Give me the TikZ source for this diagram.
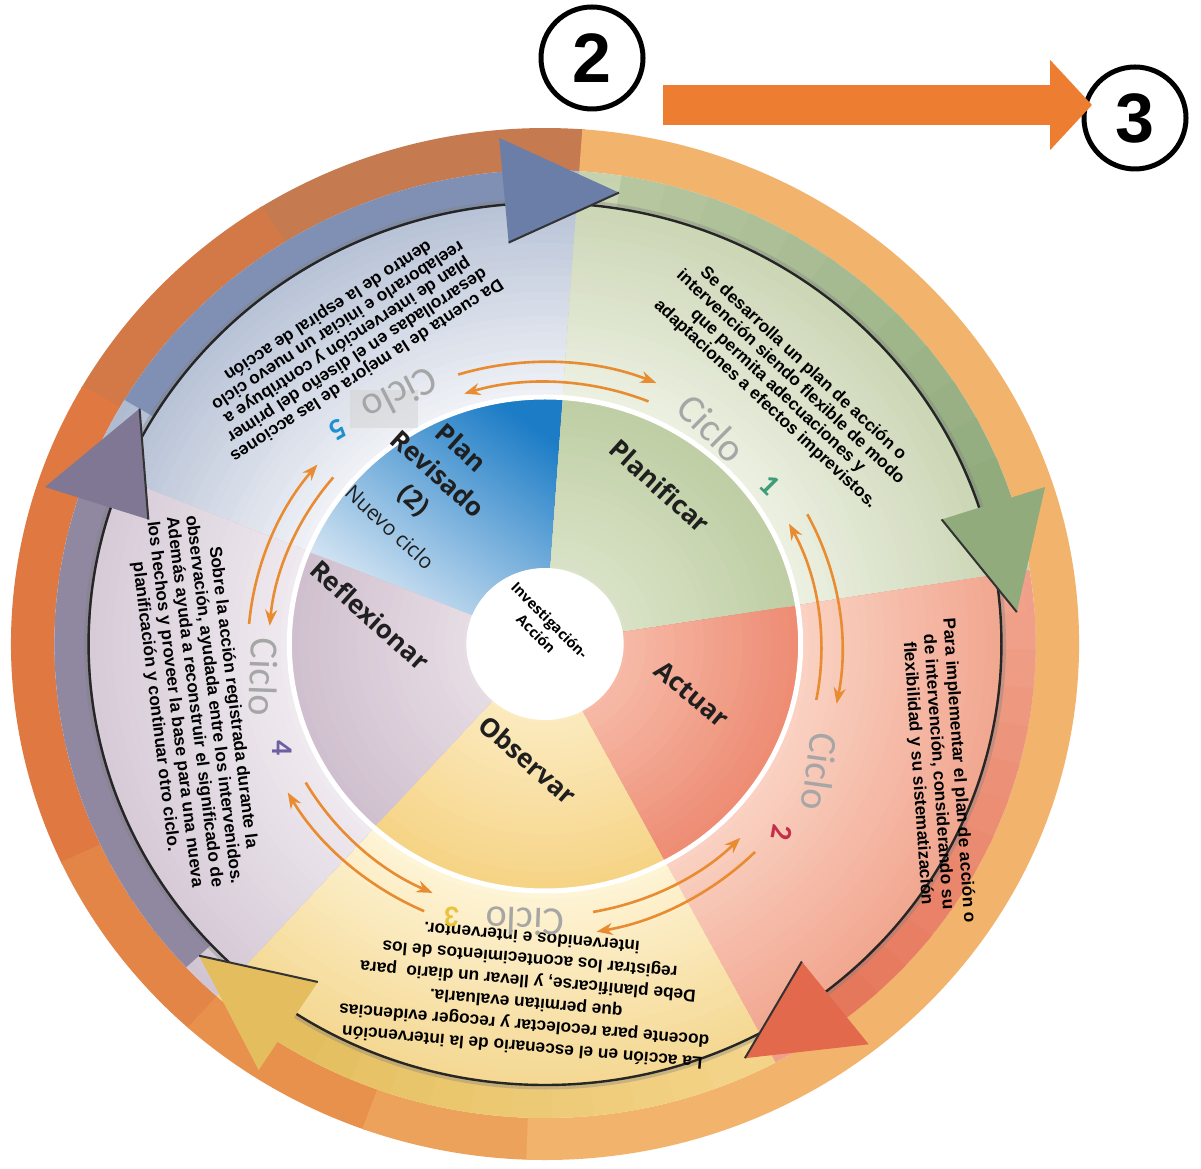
\documentclass[tikz,border=0pt]{standalone}
\usepackage{fontspec}
\setmainfont{Liberation Sans}
\newfontfamily\osans{Open Sans}
\newfontfamily\carl{Carlito}
\usetikzlibrary{arrows.meta}

\definecolor{ringL}{HTML}{F2B46C}
\definecolor{ringM}{HTML}{E8914C}
\definecolor{ringD}{HTML}{DF7941}
\definecolor{ringB}{HTML}{C57A4F}
\definecolor{bOut}{HTML}{AFBBD1}
\definecolor{bIn}{HTML}{F1F3F7}
\definecolor{gOut}{HTML}{C6D2AE}
\definecolor{gIn}{HTML}{EDF1E3}
\definecolor{pOut}{HTML}{F0A088}
\definecolor{pIn}{HTML}{FAD3C4}
\definecolor{yOut}{HTML}{F3D387}
\definecolor{yIn}{HTML}{FEF5D8}
\definecolor{uOut}{HTML}{D2C5D3}
\definecolor{uIn}{HTML}{F0EBF0}
\definecolor{giOut}{HTML}{BFCEA4}
\definecolor{giIn}{HTML}{DCE5CB}
\definecolor{piOut}{HTML}{EE8C74}
\definecolor{piIn}{HTML}{F7C0AD}
\definecolor{yiOut}{HTML}{F6D486}
\definecolor{yiIn}{HTML}{FCEDC6}
\definecolor{uiOut}{HTML}{D0C0CF}
\definecolor{uiIn}{HTML}{E9E0E7}
\definecolor{biTop}{HTML}{1C7CC6}
\definecolor{biMid}{HTML}{B2D1EC}
\definecolor{biBot}{HTML}{EEF3F9}
\definecolor{aB}{HTML}{6B7EA7}
\definecolor{aG}{HTML}{91AB7D}
\definecolor{aP}{HTML}{E2694C}
\definecolor{aY}{HTML}{E4BE5E}
\definecolor{aU}{HTML}{7F7794}
\definecolor{thinO}{HTML}{E98B30}
\definecolor{blockO}{HTML}{ED7D31}
\definecolor{cicloG}{HTML}{A6A6A6}
\definecolor{nOne}{HTML}{3F9C78}
\definecolor{nTwo}{HTML}{C42E48}
\definecolor{nThree}{HTML}{E9C23E}
\definecolor{nFour}{HTML}{6E5EA2}
\definecolor{nFive}{HTML}{1E90D2}

\newcommand\wedgeFill[5]{%
  \fill[#5] (#1:#3) arc[start angle=#1,end angle=#2,radius=#3] -- (#2:#4) arc[start angle=#2,end angle=#1,radius=#4] -- cycle;}
\newcommand\gradWedge[7]{%
  \foreach \k in {#7,...,1}{%
    \pgfmathsetmacro\gwR{#3+(#4-#3)*\k/#7}%
    \pgfmathtruncatemacro\gwP{100*\k/#7}%
    \fill[#5!\gwP!#6] (#1:#3) arc[start angle=#1,end angle=#2,radius=#3] -- (#2:\gwR) arc[start angle=#2,end angle=#1,radius=\gwR] -- cycle;}}
\newcommand\gradBody[4]{%
  \foreach \j in {0,...,11}{%
    \pgfmathsetmacro\gbA{#1+(#2-#1)*\j/12}%
    \pgfmathsetmacro\gbB{#1+(#2-#1)*(\j+1.2)/12}%
    \pgfmathtruncatemacro\gbP{100*\j/11}%
    \fill[#4!\gbP!#3] (\gbA:440) arc[start angle=\gbA,end angle=\gbB,radius=440] -- (\gbB:474) arc[start angle=\gbB,end angle=\gbA,radius=474] -- cycle;}}
\newcommand\bigHead[3]{%
  \fill[#3] (#1:402) -- (#1:508) -- (#2:457) -- cycle;
  \draw[black!80, line width=2pt] (#1:403) -- (#2:457);}

\tikzset{
  body/.style={font=\fontsize{17.3}{#1}\selectfont\bfseries, align=center, inner sep=0pt},
  seclab/.style={font=\osans\fontsize{26}{35}\selectfont\bfseries, text=black!88, align=center, inner sep=0pt},
  ciclo/.style={font=\carl\fontsize{40}{40}\selectfont, text=cicloG, inner sep=0pt},
  cnum/.style={font=\carl\fontsize{30}{30}\selectfont\bfseries, inner sep=0pt},
  oarr/.style={draw=thinO, line width=2.6pt, -{Stealth[length=16pt,width=12pt]}},
  numcirc/.style={circle, draw=black, line width=5pt, minimum size=102pt, inner sep=0pt,
     font=\fontsize{70}{70}\selectfont\bfseries}
}

\begin{document}
\begin{tikzpicture}[x=1pt,y=1pt]
\useasboundingbox (0,0) rectangle (1201,1168);
\fill[white] (0,0) rectangle (1201,1168);

\begin{scope}[shift={(545,524)}, xscale=1.035]
  % outer orange ring
  \wedgeFill{85.7}{122.3}{474}{516}{ringB}
  \wedgeFill{122}{150.3}{474}{516}{ringB!45!ringD}
  \wedgeFill{150}{205.3}{474}{516}{ringD}
  \wedgeFill{205}{228.3}{474}{516}{ringD!50!ringM}
  \wedgeFill{228}{250.3}{474}{516}{ringM}
  \wedgeFill{250}{268.3}{474}{516}{ringM!50!ringL}
  \wedgeFill{268}{446}{474}{516}{ringL}
  % outer light sector regions
  \gradWedge{86}{158}{247}{474}{bOut}{bIn}{28}
  \gradWedge{9}{86}{247}{474}{gOut}{gIn}{28}
  \gradWedge{-62}{9}{247}{474}{pOut}{pIn}{28}
  \gradWedge{-132}{-62}{247}{474}{yOut}{yIn}{28}
  \gradWedge{158}{228}{247}{474}{uOut}{uIn}{28}
  % inner sectors
  \begin{scope}
    \clip (86:60) arc[start angle=86,end angle=158,radius=60] -- (158:248) arc[start angle=158,end angle=86,radius=248] -- cycle;
    \shade[top color=biTop, middle color=biMid, bottom color=biBot, shading angle=-35] (-240,-5) rectangle (30,252);
  \end{scope}
  \gradWedge{9}{86}{60}{247}{giOut}{giIn}{20}
  \gradWedge{-62}{9}{60}{247}{piOut}{piIn}{20}
  \gradWedge{-132}{-62}{60}{247}{yiOut}{yiIn}{20}
  \gradWedge{158}{228}{60}{247}{uiOut}{uiIn}{20}
  % big arrow bodies
  \gradBody{149}{95}{aB!70!bOut}{aB}
  \gradBody{81}{18}{gOut!70!aG}{aG}
  \gradBody{4}{-52}{pOut}{aP!75!pOut}
  \gradBody{-65}{-123}{yOut}{aY}
  \gradBody{223}{162}{aU!80!uOut}{aU}
  % black line
  \draw[black!50, line width=5pt, opacity=.35] (0,0) circle[radius=443];
  \draw[black!85, line width=2.4pt] (0,0) circle[radius=441];
  % arrow heads
  \bigHead{95}{81}{aB}
  \bigHead{18}{4}{aG}
  \bigHead{-52}{-65}{aP}
  \bigHead{-123}{-137}{aY}
  \bigHead{162}{149}{aU}
  % white ring and centre
  \draw[white, line width=5pt] (0,0) circle[radius=247];
  \fill[white] (0,0) circle[radius=76];
  % thin double arrows
  \begin{scope}[yshift=-5pt]
  \draw[oarr] (107:287) arc[start angle=107,end angle=68,radius=287];
  \draw[oarr] (68:267) arc[start angle=68,end angle=107,radius=267];
  \draw[oarr] (28:287) arc[start angle=28,end angle=-11,radius=287];
  \draw[oarr] (-11:267) arc[start angle=-11,end angle=28,radius=267];
  \draw[oarr] (-45:287) arc[start angle=-45,end angle=-80,radius=287];
  \draw[oarr] (-80:267) arc[start angle=-80,end angle=-45,radius=267];
  \draw[oarr] (-114:287) arc[start angle=-114,end angle=-150,radius=287];
  \draw[oarr] (-150:267) arc[start angle=-150,end angle=-114,radius=267];
  \draw[oarr] (175:287) arc[start angle=175,end angle=140,radius=287];
  \draw[oarr] (140:267) arc[start angle=140,end angle=175,radius=267];
  \end{scope}
\end{scope}

% body texts
\node[body=18.5, rotate=-43] (tA) at (784,784) {Se desarrolla un plan de acción o\\intervención siendo flexible de modo\\que permita adecuaciones y\\adaptaciones a efectos imprevistos.};
\node[body=20.5, rotate=-86] (tB) at (938,396) {Para implementar el plan de acción o\\de intervención, considerando su\\flexibilidad y su sistematización};
\node[body=22, rotate=175] (tC) at (527,175) {La acción en el escenario de la intervención\\docente para recolectar y recoger evidencias\\que permitan evaluarla.\\Debe planificarse, y llevar un diario\ \ para\\registrar los acontecimientos de los\\intervenidos e interventor.};
\node[body=19.5, rotate=-83] (tD) at (194,466) {Sobre la acción registrada durante la\\observación, ayudada entre los intervenidos.\\Además ayuda a reconstruir el significado de\\los hechos y proveer la base para una nueva\\planificación y continuar otro ciclo.};
\node[body=17.8, rotate=213] (tE) at (347,828) {Da cuenta de la mejora de las acciones\\desarrolladas en el diseño del primer\\plan de intervención y contribuye a\\reelaborarlo e iniciar un nuevo ciclo\\dentro de la espiral de acción};

% sector labels
\node[seclab, rotate=-42] (lPl) at (660,682) {Planificar};
\node[seclab, rotate=-40] (lAc) at (692,474) {Actuar};
\node[seclab, rotate=-41] (lOb) at (528,408) {Observar};
\node[seclab, rotate=-42] (lRe) at (370,553) {Reflexionar};
\node[seclab, rotate=-42] (lPR) at (437,693) {Plan\\Revisado\\(2)};
\node[font=\osans\fontsize{21}{21}\selectfont, text=black!88, rotate=-43, inner sep=0pt] (lNc) at (390,641) {Nuevo ciclo};
\node[font=\osans\fontsize{14.5}{19}\selectfont\bfseries, align=center, rotate=-45, inner sep=0pt] (lIA) at (543,541) {Investigación-\\Acción};

% ciclo labels
\fill[gray!35, opacity=.5] (350,740) rectangle (418,778);
\node[ciclo, rotate=-45] (c1) at (712,740) {Ciclo};
\node[cnum, text=nOne, rotate=-45] (k1) at (770,683) {1};
\node[ciclo, rotate=-98] (c2) at (820,396) {Ciclo};
\node[cnum, text=nTwo, rotate=-100] (k2) at (782,335) {2};
\node[ciclo, rotate=178] (c3) at (525,246) {Ciclo};
\node[cnum, text=nThree, rotate=178] (k3) at (452,251) {3};
\node[ciclo, rotate=-92] (c4) at (264,491) {Ciclo};
\node[cnum, text=nFour, rotate=-90] (k4) at (282,420) {4};
\node[ciclo, rotate=207] (c5) at (400,773) {Ciclo};
\node[cnum, text=nFive, rotate=210] (k5) at (338,738) {5};

% top right: 2 -> 3
\node[numcirc] (n2) at (592,1110) {2};
\node[numcirc] (n3) at (1135,1050) {3};
\coordinate (aS) at (663,1063);
\coordinate (aE) at (1092,1063);
\draw[line width=40pt, draw=blockO, -{Triangle[length=42pt,width=88pt]}] (aS) -- (aE);
\end{tikzpicture}
\end{document}
